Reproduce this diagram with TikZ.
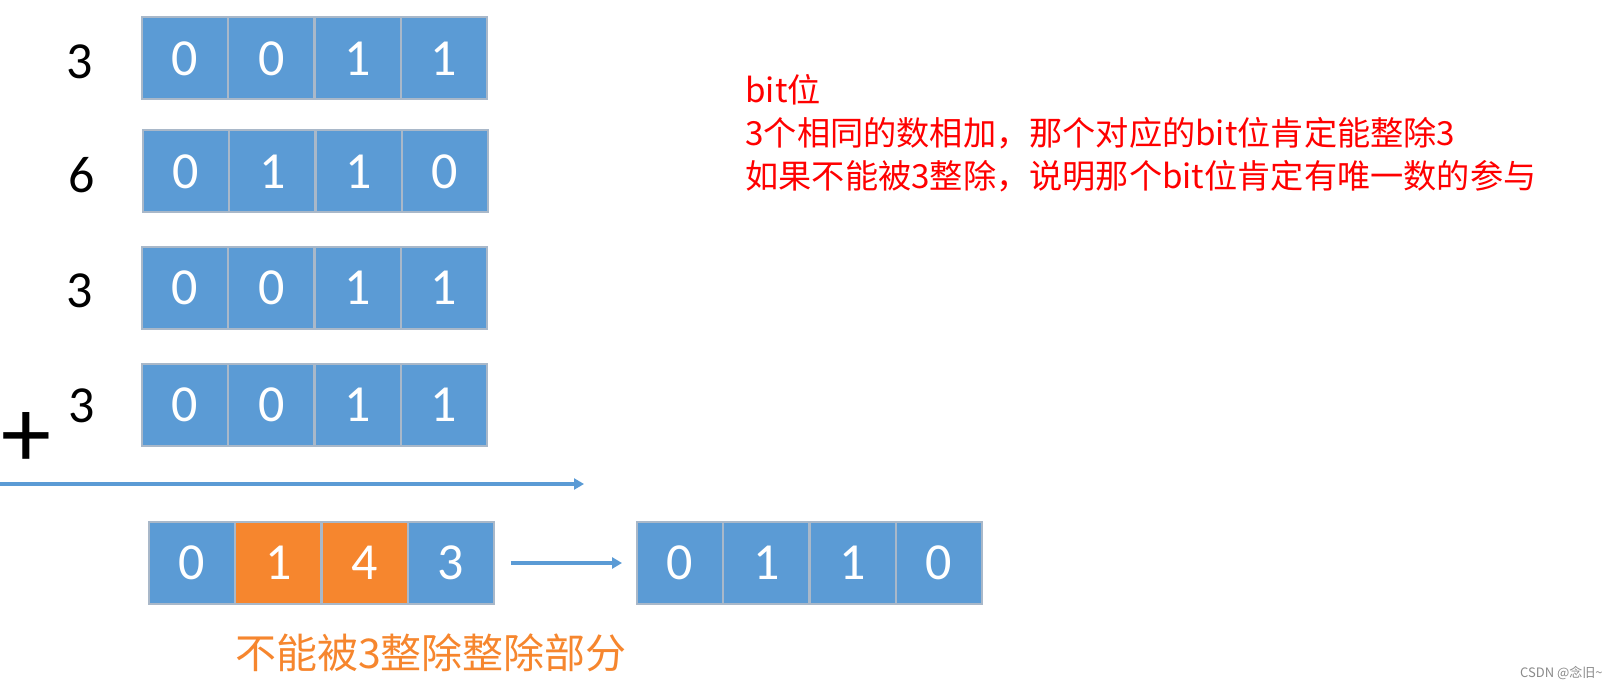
\documentclass[tikz,border=0pt]{standalone}
\usepackage{fontspec}
\setmainfont{Carlito}
\newfontfamily\cjk{Noto Sans CJK SC}
\usetikzlibrary{arrows.meta}
\definecolor{cblue}{HTML}{5B9BD5}
\definecolor{corange}{HTML}{F6862E}
\definecolor{cedge}{HTML}{A9B8C9}
\definecolor{cred}{HTML}{FF0000}
\definecolor{cgray}{HTML}{8A8A8A}
\begin{document}
\begin{tikzpicture}[x=0.5pt,y=-0.5pt,
  cell/.style={draw=cedge,line width=1pt,fill=cblue,minimum width=43.1pt,minimum height=41pt,inner sep=0pt,text=white,font=\fontsize{26}{26}\selectfont},
  ocell/.style={cell,fill=corange},
  lbl/.style={inner sep=0pt,text=black,font=\fontsize{26}{26}\selectfont},
  arr/.style={draw=cblue,line width=1.6pt,-{Triangle[length=5pt,width=5.5pt]}},
  note/.style={anchor=west,inner sep=0pt,text=cred,font=\cjk\fontsize{16.6}{20}\selectfont}
]
\useasboundingbox (0,0) rectangle (1611,689);
% rows of bits
\foreach \v [count=\i] in {0,0,1,1} \node[cell] (a\i) at ({142+86.25*(\i-0.5)},58.5) {\v};
\foreach \v [count=\i] in {0,1,1,0} \node[cell] (b\i) at ({143+86.25*(\i-0.5)},171.5) {\v};
\foreach \v [count=\i] in {0,0,1,1} \node[cell] (c\i) at ({142+86.25*(\i-0.5)},287.7) {\v};
\foreach \v [count=\i] in {0,0,1,1} \node[cell] (d\i) at ({142+86.25*(\i-0.5)},404.8) {\v};
% labels
\node[lbl] (la) at (80,62) {3};
\node[lbl] (lb) at (82,175) {6};
\node[lbl] (lc) at (80,291) {3};
\node[lbl] (ld) at (82,406) {3};
\node[inner sep=0pt,font=\fontsize{50}{50}\selectfont] (plus) at (26,440) {+};
% sum line
\coordinate (sL) at (0,484);
\coordinate (sR) at (584,484);
\draw[arr] (sL) -- (sR);
% result row
\node[cell]  (e1) at ({149+86.25*0.5},563) {0};
\node[ocell] (e2) at ({149+86.25*1.5},563) {1};
\node[ocell] (e3) at ({149+86.25*2.5},563) {4};
\node[cell]  (e4) at ({149+86.25*3.5},563) {3};
\foreach \v [count=\i] in {0,1,1,0} \node[cell] (f\i) at ({637+86.25*(\i-0.5)},563) {\v};
\draw[arr] ([xshift=8pt]e4.east) -- ([xshift=-7pt]f1.west);
% captions
\node[inner sep=0pt,text=corange,font=\cjk\fontsize{20.5}{24}\selectfont] (cap) at (431,653) {不能被3整除整除部分};
\node[note] (n1) at (745,90) {bit位};
\node[note] (n2) at (745,133.5) {3个相同的数相加，那个对应的bit位肯定能整除3};
\node[note] (n3) at (745,176.5) {如果不能被3整除，说明那个bit位肯定有唯一数的参与};
\node[anchor=east,inner sep=0pt,text=cgray,font=\cjk\fontsize{6.5}{8}\selectfont] (wm) at (1603,673) {CSDN @念旧\textasciitilde};
\end{tikzpicture}
\end{document}
